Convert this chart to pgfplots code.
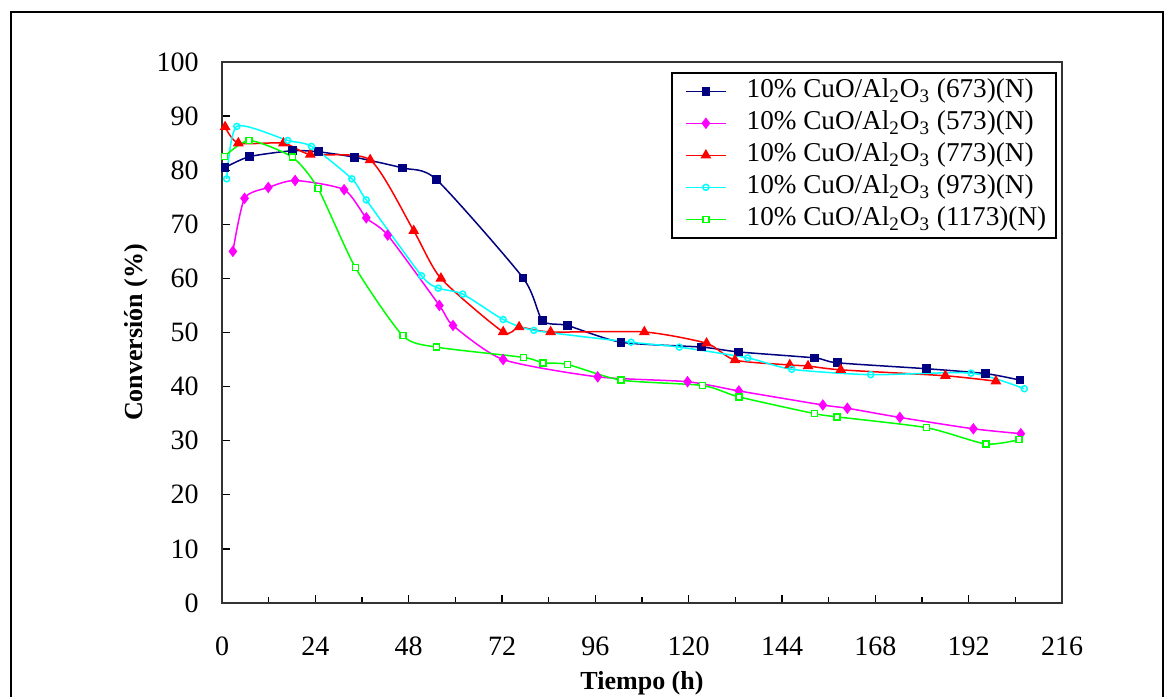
\documentclass[border=0pt]{standalone}
\usepackage{fontspec}
\setmainfont{Liberation Serif}
\usepackage{pgfplots}
\pgfplotsset{compat=1.18}
\definecolor{cnavy}{RGB}{0,0,128}
\definecolor{cmag}{RGB}{255,0,255}
\definecolor{cred}{RGB}{255,0,0}
\definecolor{ccyan}{RGB}{0,255,255}
\definecolor{cgreen}{RGB}{0,255,0}
\begin{document}
\begin{tikzpicture}[font=\fontsize{13}{15}\selectfont]
\useasboundingbox (0,0) rectangle (588pt,348pt);
\draw[line width=1pt] (5.5pt,-10pt) -- (5.5pt,342pt) -- (581.5pt,342pt) -- (581.5pt,-10pt);
\begin{axis}[
  at={(111pt,46.5pt)}, anchor=south west,
  scale only axis, width=420pt, height=270.5pt,
  xmin=0, xmax=216, ymin=0, ymax=100,
  xtick={0,24,...,216}, minor xtick={12,36,...,204},
  ytick={0,10,...,100},
  tick align=inside, xtick pos=bottom, ytick pos=left,
  major tick length=4pt, minor tick length=3pt,
  every tick/.style={black, line width=0.6pt},
  axis line style={black!80, line width=0.8pt},
  /pgf/number format/assume math mode=true,
  tick label style={font=\fontsize{14}{16}\selectfont},
  xticklabel shift=13.3pt, yticklabel shift=8.2pt,
  xlabel={\textbf{Tiempo (h)}}, ylabel={\textbf{Conversión (\%)}},
  xlabel style={at={(axis description cs:0.5,-0.148)}, anchor=center},
  ylabel style={at={(axis description cs:-0.1025,0.5)}, anchor=center, rotate=0},
  clip=false,
  legend cell align=left,
  legend style={at={(axis description cs:1,1)}, anchor=north east, xshift=-2.5pt, yshift=-5pt,
    draw=black, line width=0.8pt, inner xsep=4pt, inner ysep=1.5pt,
    font=\fontsize{13.6}{15}\selectfont,
    nodes={inner sep=1pt, text height=10pt, text depth=3.5pt, line width=0.75pt},
    row sep=0.5pt},
  legend image code/.code={%
    \path (-2.5pt,0pt) (29pt,0pt);
    \draw[mark repeat=2,mark phase=2] plot coordinates {(0pt,0pt) (10pt,0pt) (20pt,0pt)};},
  every axis plot/.append style={line width=0.75pt, smooth, tension=0.4},
]
\addplot[cnavy, mark=square*, mark size=1.8pt, mark options={fill=cnavy}] coordinates {
(0.8,80.5) (7,82.5) (18.1,83.6) (24.8,83.4) (34.1,82.4) (46.5,80.4) (55.1,78.3) (77.4,60.1) (82.4,52.2) (88.8,51.3) (102.6,48.2) (123.3,47.3) (132.9,46.4) (152.4,45.3) (158.2,44.4) (181.2,43.3) (196.4,42.4) (205.2,41.2)};
\addlegendentry{10\% CuO/Al\textsubscript{2}O\textsubscript{3} (673)(N)}
\addplot[cmag, mark=diamond*, mark size=2.3pt, mark options={fill=cmag}] coordinates {
(2.8,65.0) (5.8,74.8) (11.9,76.8) (18.8,78.1) (31.4,76.4) (37.1,71.2) (42.6,68.0) (55.9,55.0) (59.4,51.3) (72.3,45.0) (96.6,41.8) (119.7,40.9) (132.9,39.2) (154.5,36.6) (160.8,36.0) (174.3,34.3) (193.2,32.2) (205.4,31.3)};
\addlegendentry{10\% CuO/Al\textsubscript{2}O\textsubscript{3} (573)(N)}
\addplot[cred, mark=triangle*, mark size=2.4pt, mark options={fill=cred}] coordinates {
(0.8,88.0) (4.2,85.0) (15.8,85.0) (22.7,82.9) (38.1,81.9) (49.3,68.8) (56.3,60.0) (72.3,50.1) (76.4,51.0) (84.5,50.1) (108.6,50.1) (124.6,48.0) (131.9,44.9) (146.0,44.0) (150.7,43.8) (159.1,43.1) (186.0,42.0) (199.0,41.0)};
\addlegendentry{10\% CuO/Al\textsubscript{2}O\textsubscript{3} (773)(N)}
\addplot[ccyan, mark=o, mark size=1.5pt, mark options={fill=white}] coordinates {
(1.2,78.4) (3.8,88.1) (16.9,85.5) (23.0,84.4) (33.4,78.4) (37.1,74.5) (51.3,60.5) (55.6,58.2) (61.9,57.1) (72.3,52.4) (80.2,50.4) (105.2,48.2) (117.6,47.3) (135.2,45.3) (146.5,43.2) (166.8,42.2) (192.6,42.5) (206.3,39.6)};
\addlegendentry{10\% CuO/Al\textsubscript{2}O\textsubscript{3} (973)(N)}
\addplot[cgreen, mark=square*, mark size=1.5pt, mark options={fill=white, draw=cgreen}] coordinates {
(0.6,82.5) (7.0,85.5) (18.1,82.4) (24.7,76.6) (34.3,62.0) (46.5,49.4) (55.1,47.3) (77.5,45.4) (82.5,44.4) (88.8,44.1) (102.6,41.2) (123.6,40.2) (132.9,38.1) (152.4,35.0) (158.2,34.4) (181.2,32.4) (196.4,29.4) (205.0,30.2)};
\addlegendentry{10\% CuO/Al\textsubscript{2}O\textsubscript{3} (1173)(N)}
\end{axis}
\end{tikzpicture}
\end{document}
